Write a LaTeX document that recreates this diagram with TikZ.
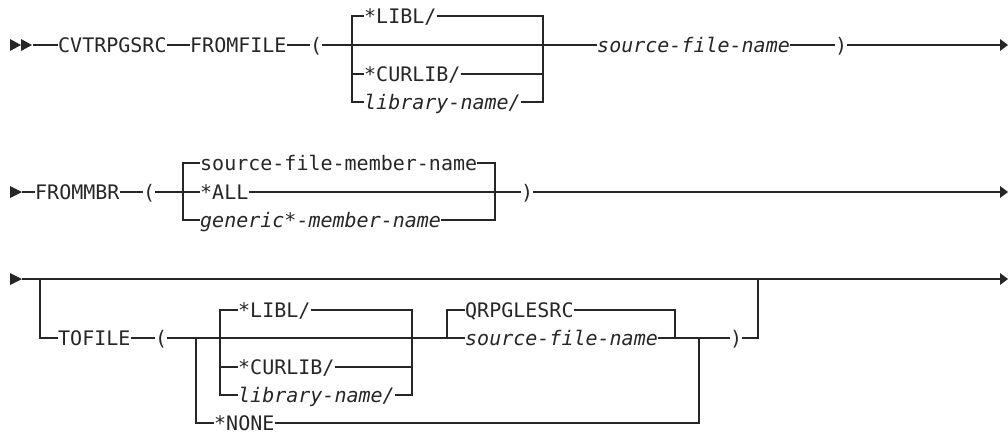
\documentclass[tikz,border=0pt]{standalone}
\usepackage{fontspec}
\setmonofont{DejaVu Sans Mono}
\definecolor{ink}{HTML}{262626}
\begin{document}
\begin{tikzpicture}[x=1pt,y=-1pt,
  kw/.style={anchor=west, inner sep=0pt, text height=14.6pt, text depth=0pt,
    text=ink, font=\ttfamily\fontsize{20}{24}\selectfont},
  var/.style={kw, font=\ttfamily\itshape\fontsize{20}{24}\selectfont},
  rail/.style={draw=ink, line width=1.4pt},
  tip/.style={fill=ink}]
\useasboundingbox (0,0) rectangle (1008,432);

% ---------- row 1 ----------
\coordinate (s1) at (33,45);
\coordinate (e1) at (1000,45);
\node[kw] (cvt) at (58,45) {CVTRPGSRC};
\node[kw] (ff) at (190,45) {FROMFILE};
\node[kw] (lp1) at (310,45) {(};
\coordinate (b1l) at (352,45);
\node[kw] (libl1) at (364,16) {*LIBL/};
\node[kw] (cur1) at (364,74) {*CURLIB/};
\node[var] (lib1) at (364,102) {library-name/};
\coordinate (b1r) at (543,45);
\node[var] (sfn1) at (597,45) {source-file-name};
\node[kw] (rp1) at (835,45) {)};

\fill[tip] (10,39) -- (21,45) -- (10,51) -- cycle;
\fill[tip] (21,39) -- (32,45) -- (21,51) -- cycle;
\fill[tip] (e1) ++(0,-6) -- ++(8,6) -- ++(-8,6) -- cycle;
\draw[rail] (s1) -- (cvt.west);
\draw[rail] (cvt.east) -- (ff.west);
\draw[rail] (ff.east) -- (lp1.west);
\draw[rail] (lp1.east) -- (sfn1.west);
\draw[rail] (sfn1.east) -- (rp1.west);
\draw[rail] (rp1.east) -- (e1);
\draw[rail] (libl1.west) -- (libl1.west -| b1l) -- (lib1.west -| b1l) -- (lib1.west);
\draw[rail] (cur1.west -| b1l) -- (cur1.west);
\draw[rail] (libl1.east) -- (libl1.east -| b1r) -- (lib1.east -| b1r) -- (lib1.east);
\draw[rail] (cur1.east) -- (cur1.east -| b1r);

% ---------- row 2 ----------
\coordinate (s2) at (22,192);
\coordinate (e2) at (1000,192);
\node[kw] (fm) at (35,192) {FROMMBR};
\node[kw] (lp2) at (143,192) {(};
\coordinate (b2l) at (183,192);
\node[kw] (sfm) at (200,163) {source-file-member-name};
\node[kw] (all) at (200,192) {*ALL};
\node[var] (gen) at (200,220) {generic*-member-name};
\coordinate (b2r) at (495,192);
\node[kw] (rp2) at (521,192) {)};

\fill[tip] (10,186) -- (22,192) -- (10,198) -- cycle;
\fill[tip] (e2) ++(0,-6) -- ++(8,6) -- ++(-8,6) -- cycle;
\draw[rail] (s2) -- (fm.west);
\draw[rail] (fm.east) -- (lp2.west);
\draw[rail] (lp2.east) -- (all.west);
\draw[rail] (all.east) -- (rp2.west);
\draw[rail] (rp2.east) -- (e2);
\draw[rail] (sfm.west) -- (sfm.west -| b2l) -- (gen.west -| b2l) -- (gen.west);
\draw[rail] (sfm.east) -- (sfm.east -| b2r) -- (gen.east -| b2r) -- (gen.east);

% ---------- row 3 ----------
\coordinate (s3) at (22,279);
\coordinate (e3) at (1000,279);
\coordinate (b3a) at (40,279);
\node[kw] (tf) at (58,338) {TOFILE};
\node[kw] (lp3) at (155,338) {(};
\coordinate (bn) at (196,338);
\coordinate (b3l) at (220,338);
\node[kw] (libl3) at (238,310) {*LIBL/};
\node[kw] (cur3) at (238,367) {*CURLIB/};
\node[var] (lib3) at (238,395) {library-name/};
\coordinate (b3r) at (412,338);
\coordinate (bql) at (447,338);
\node[kw] (qrp) at (465,310) {QRPGLESRC};
\node[var] (sfn3) at (465,338) {source-file-name};
\coordinate (bqr) at (675,338);
\node[kw] (none) at (214,423) {*NONE};
\coordinate (bnr) at (699,338);
\node[kw] (rp3) at (730,338) {)};
\coordinate (b3z) at (758,279);

\fill[tip] (10,273) -- (22,279) -- (10,285) -- cycle;
\fill[tip] (e3) ++(0,-6) -- ++(8,6) -- ++(-8,6) -- cycle;
\draw[rail] (s3) -- (e3);
\draw[rail] (b3a) |- (tf.west);
\draw[rail] (tf.east) -- (lp3.west);
\draw[rail] (lp3.east) -- (sfn3.west);
\draw[rail] (sfn3.east) -- (rp3.west);
\draw[rail] (rp3.east) -| (b3z);
\draw[rail] (bn) |- (none.west);
\draw[rail] (none.east) -| (bnr);
\draw[rail] (libl3.west) -- (libl3.west -| b3l) -- (lib3.west -| b3l) -- (lib3.west);
\draw[rail] (cur3.west -| b3l) -- (cur3.west);
\draw[rail] (libl3.east) -- (libl3.east -| b3r) -- (lib3.east -| b3r) -- (lib3.east);
\draw[rail] (cur3.east) -- (cur3.east -| b3r);
\draw[rail] (qrp.west) -- (qrp.west -| bql) -- (bql);
\draw[rail] (qrp.east) -- (qrp.east -| bqr) -- (bqr);
\end{tikzpicture}
\end{document}
